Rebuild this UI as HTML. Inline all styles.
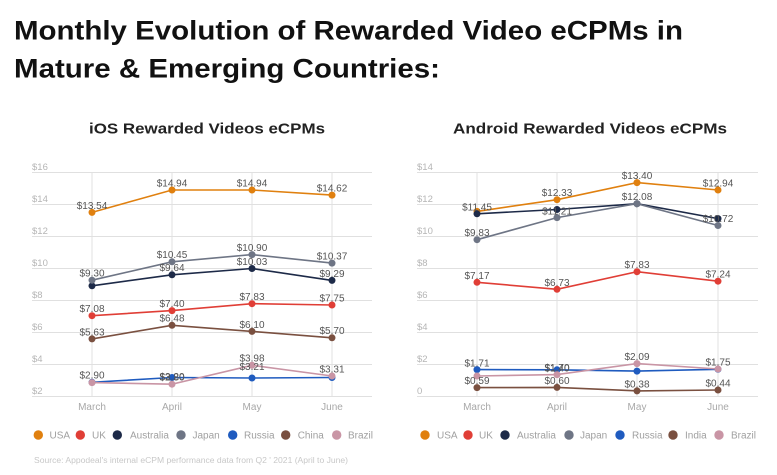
<!DOCTYPE html>
<html><head><meta charset="utf-8"><style>
html,body{margin:0;padding:0;background:#fff;}
svg{display:block;}
text{font-family:"Liberation Sans",sans-serif;}
.t{font-weight:bold;fill:#111;font-size:27px;}
.st{font-weight:bold;fill:#222;font-size:15px;}
.ax{fill:#b5b5b5;font-size:9.5px;}
.mo{fill:#a8a8a8;font-size:10px;text-anchor:middle;}
.lb{fill:#555;font-size:10px;text-anchor:middle;}
.lg{fill:#a0a0a0;font-size:10px;}
.src{fill:#c8c8c8;font-size:8px;}
.g{stroke:#e0e0e0;stroke-width:1;}
</style></head><body>
<svg width="777" height="475" viewBox="0 0 777 475" xmlns="http://www.w3.org/2000/svg">
<rect width="777" height="475" fill="#fff"/>
<text class="t" x="14" y="39.5" textLength="669" lengthAdjust="spacingAndGlyphs">Monthly Evolution of Rewarded Video eCPMs in</text>
<text class="t" x="14" y="77.5" textLength="426" lengthAdjust="spacingAndGlyphs">Mature &amp; Emerging Countries:</text>
<text class="st" x="89" y="133.5" textLength="236" lengthAdjust="spacingAndGlyphs">iOS Rewarded Videos eCPMs</text>
<text class="st" x="453" y="133.5" textLength="274" lengthAdjust="spacingAndGlyphs">Android Rewarded Videos eCPMs</text>

<!-- iOS grid -->
<g class="g">
<line x1="32" x2="372" y1="172.5" y2="172.5"/>
<line x1="32" x2="372" y1="204.5" y2="204.5"/>
<line x1="32" x2="372" y1="236.5" y2="236.5"/>
<line x1="32" x2="372" y1="268.5" y2="268.5"/>
<line x1="32" x2="372" y1="300.5" y2="300.5"/>
<line x1="32" x2="372" y1="332.5" y2="332.5"/>
<line x1="32" x2="372" y1="364.5" y2="364.5"/>
<line x1="32" x2="372" y1="396.5" y2="396.5"/>
<line x1="92" x2="92" y1="172" y2="397"/>
<line x1="172" x2="172" y1="172" y2="397"/>
<line x1="252" x2="252" y1="172" y2="397"/>
<line x1="332" x2="332" y1="172" y2="397"/>
</g>
<text class="ax" x="32" y="170">$16</text>
<text class="ax" x="32" y="202">$14</text>
<text class="ax" x="32" y="234">$12</text>
<text class="ax" x="32" y="266">$10</text>
<text class="ax" x="32" y="298">$8</text>
<text class="ax" x="32" y="330">$6</text>
<text class="ax" x="32" y="362">$4</text>
<text class="ax" x="32" y="394">$2</text>
<text class="mo" x="92" y="410">March</text>
<text class="mo" x="172" y="410">April</text>
<text class="mo" x="252" y="410">May</text>
<text class="mo" x="332" y="410">June</text>

<!-- iOS series -->
<g fill="none" stroke-width="1.6">
<polyline stroke="#e0800f" points="92,212.4 172,190 252,190 332,195.1"/>
<polyline stroke="#e03e36" points="92,315.7 172,310.6 252,303.7 332,305"/>
<polyline stroke="#1d2a48" points="92,285.8 172,274.8 252,268.5 332,280.4"/>
<polyline stroke="#6e7585" points="92,280.2 172,261.8 252,254.6 332,263.1"/>
<polyline stroke="#1f5bbf" points="92,382.3 172,377.5 252,378 332,377.5"/>
<polyline stroke="#7a5040" points="92,338.9 172,325.3 252,331.4 332,337.8"/>
<polyline stroke="#c995a5" points="92,382.6 172,384.2 252,365.3 332,376"/>
</g>
<g>
<g fill="#e0800f"><circle cx="92" cy="212.4" r="3.5"/><circle cx="172" cy="190" r="3.5"/><circle cx="252" cy="190" r="3.5"/><circle cx="332" cy="195.1" r="3.5"/></g>
<g fill="#e03e36"><circle cx="92" cy="315.7" r="3.5"/><circle cx="172" cy="310.6" r="3.5"/><circle cx="252" cy="303.7" r="3.5"/><circle cx="332" cy="305" r="3.5"/></g>
<g fill="#1d2a48"><circle cx="92" cy="285.8" r="3.5"/><circle cx="172" cy="274.8" r="3.5"/><circle cx="252" cy="268.5" r="3.5"/><circle cx="332" cy="280.4" r="3.5"/></g>
<g fill="#6e7585"><circle cx="92" cy="280.2" r="3.5"/><circle cx="172" cy="261.8" r="3.5"/><circle cx="252" cy="254.6" r="3.5"/><circle cx="332" cy="263.1" r="3.5"/></g>
<g fill="#1f5bbf"><circle cx="92" cy="382.3" r="3.5"/><circle cx="172" cy="377.5" r="3.5"/><circle cx="252" cy="378" r="3.5"/><circle cx="332" cy="377.5" r="3.5"/></g>
<g fill="#7a5040"><circle cx="92" cy="338.9" r="3.5"/><circle cx="172" cy="325.3" r="3.5"/><circle cx="252" cy="331.4" r="3.5"/><circle cx="332" cy="337.8" r="3.5"/></g>
<g fill="#c995a5"><circle cx="92" cy="382.6" r="3.5"/><circle cx="172" cy="384.2" r="3.5"/><circle cx="252" cy="365.3" r="3.5"/><circle cx="332" cy="376" r="3.5"/></g>
</g>
<g class="lb">
<text x="92" y="209">$13.54</text><text x="172" y="186.5">$14.94</text><text x="252" y="186.5">$14.94</text><text x="332" y="191.5">$14.62</text>
<text x="92" y="312">$7.08</text><text x="172" y="307">$7.40</text><text x="252" y="300">$7.83</text><text x="332" y="301.5">$7.75</text>
<text x="172" y="271">$9.64</text><text x="252" y="265">$10.03</text><text x="332" y="277">$9.29</text>
<text x="92" y="276.5">$9.30</text><text x="172" y="258">$10.45</text><text x="252" y="251">$10.90</text><text x="332" y="259.5">$10.37</text>
<text x="92" y="378.5">$2.90</text><text x="172" y="380">$3.20</text><text x="252" y="370">$3.21</text>
<text x="92" y="335.5">$5.63</text><text x="172" y="321.5">$6.48</text><text x="252" y="328">$6.10</text><text x="332" y="334">$5.70</text>
<text x="172" y="380.5">$2.80</text><text x="252" y="361.5">$3.98</text><text x="332" y="372.5">$3.31</text>
</g>

<!-- iOS legend -->
<g>
<circle cx="38.3" cy="435" r="4.7" fill="#e0800f"/><text class="lg" x="49.5" y="438.5">USA</text>
<circle cx="80.3" cy="435" r="4.7" fill="#e03e36"/><text class="lg" x="92" y="438.5">UK</text>
<circle cx="117.3" cy="435" r="4.7" fill="#1d2a48"/><text class="lg" x="130" y="438.5">Australia</text>
<circle cx="181" cy="435" r="4.7" fill="#6e7585"/><text class="lg" x="192.5" y="438.5">Japan</text>
<circle cx="232.7" cy="435" r="4.7" fill="#1f5bbf"/><text class="lg" x="244" y="438.5">Russia</text>
<circle cx="285.7" cy="435" r="4.7" fill="#7a5040"/><text class="lg" x="297.7" y="438.5">China</text>
<circle cx="336.7" cy="435" r="4.7" fill="#c995a5"/><text class="lg" x="348" y="438.5">Brazil</text>
</g>
<text class="src" x="34" y="463" textLength="314" lengthAdjust="spacingAndGlyphs">Source: Appodeal's internal eCPM performance data from Q2 ' 2021 (April to June)</text>

<!-- Android grid -->
<g class="g">
<line x1="417" x2="758" y1="172.5" y2="172.5"/>
<line x1="417" x2="758" y1="204.5" y2="204.5"/>
<line x1="417" x2="758" y1="236.5" y2="236.5"/>
<line x1="417" x2="758" y1="268.5" y2="268.5"/>
<line x1="417" x2="758" y1="300.5" y2="300.5"/>
<line x1="417" x2="758" y1="332.5" y2="332.5"/>
<line x1="417" x2="758" y1="364.5" y2="364.5"/>
<line x1="417" x2="758" y1="396.5" y2="396.5"/>
<line x1="477" x2="477" y1="172" y2="397"/>
<line x1="557" x2="557" y1="172" y2="397"/>
<line x1="637" x2="637" y1="172" y2="397"/>
<line x1="718" x2="718" y1="172" y2="397"/>
</g>
<text class="ax" x="417" y="170">$14</text>
<text class="ax" x="417" y="202">$12</text>
<text class="ax" x="417" y="234">$10</text>
<text class="ax" x="417" y="266">$8</text>
<text class="ax" x="417" y="298">$6</text>
<text class="ax" x="417" y="330">$4</text>
<text class="ax" x="417" y="362">$2</text>
<text class="ax" x="417" y="394">0</text>
<text class="mo" x="477" y="410">March</text>
<text class="mo" x="557" y="410">April</text>
<text class="mo" x="637" y="410">May</text>
<text class="mo" x="718" y="410">June</text>

<!-- Android series -->
<g fill="none" stroke-width="1.6">
<polyline stroke="#e0800f" points="477,211.4 557,199.7 637,182.6 718,190"/>
<polyline stroke="#e03e36" points="477,282.3 557,289.3 637,271.7 718,281.2"/>
<polyline stroke="#1d2a48" points="477,213.8 557,209.5 637,203.7 718,218.6"/>
<polyline stroke="#6e7585" points="477,239.7 557,217.6 637,203.7 718,225.5"/>
<polyline stroke="#1f5bbf" points="477,369.6 557,369.8 637,371.1 718,369.3"/>
<polyline stroke="#7a5040" points="477,387.6 557,387.4 637,390.9 718,390"/>
<polyline stroke="#c995a5" points="477,376 557,374.6 637,363.6 718,369"/>
</g>
<g>
<g fill="#e0800f"><circle cx="477" cy="211.4" r="3.5"/><circle cx="557" cy="199.7" r="3.5"/><circle cx="637" cy="182.6" r="3.5"/><circle cx="718" cy="190" r="3.5"/></g>
<g fill="#e03e36"><circle cx="477" cy="282.3" r="3.5"/><circle cx="557" cy="289.3" r="3.5"/><circle cx="637" cy="271.7" r="3.5"/><circle cx="718" cy="281.2" r="3.5"/></g>
<g fill="#1d2a48"><circle cx="477" cy="213.8" r="3.5"/><circle cx="557" cy="209.5" r="3.5"/><circle cx="637" cy="203.7" r="3.5"/><circle cx="718" cy="218.6" r="3.5"/></g>
<g fill="#6e7585"><circle cx="477" cy="239.7" r="3.5"/><circle cx="557" cy="217.6" r="3.5"/><circle cx="637" cy="203.7" r="3.5"/><circle cx="718" cy="225.5" r="3.5"/></g>
<g fill="#1f5bbf"><circle cx="477" cy="369.6" r="3.5"/><circle cx="557" cy="369.8" r="3.5"/><circle cx="637" cy="371.1" r="3.5"/><circle cx="718" cy="369.3" r="3.5"/></g>
<g fill="#7a5040"><circle cx="477" cy="387.6" r="3.5"/><circle cx="557" cy="387.4" r="3.5"/><circle cx="637" cy="390.9" r="3.5"/><circle cx="718" cy="390" r="3.5"/></g>
<g fill="#c995a5"><circle cx="477" cy="376" r="3.5"/><circle cx="557" cy="374.6" r="3.5"/><circle cx="637" cy="363.6" r="3.5"/><circle cx="718" cy="369" r="3.5"/></g>
</g>
<g class="lb">
<text x="557" y="196">$12.33</text><text x="637" y="179">$13.40</text><text x="718" y="186.5">$12.94</text>
<text x="477" y="282.3" dy="-3.5">$7.17</text><text x="557" y="286">$6.73</text><text x="637" y="268">$7.83</text><text x="718" y="277.5">$7.24</text>
<text x="477" y="210.5">$11.45</text>
<text x="477" y="236">$9.83</text><text x="557" y="214.5">$11.21</text><text x="637" y="200">$12.08</text><text x="718" y="222">$10.72</text>
<text x="477" y="366.5">$1.71</text><text x="557" y="371">$1.70</text>
<text x="477" y="384">$0.59</text><text x="557" y="384">$0.60</text><text x="637" y="387.5">$0.38</text><text x="718" y="386.5">$0.44</text>
<text x="557" y="371.5">$1.40</text><text x="637" y="360">$2.09</text><text x="718" y="365.5">$1.75</text>
</g>

<!-- Android legend -->
<g>
<circle cx="425" cy="435" r="4.7" fill="#e0800f"/><text class="lg" x="437" y="438.5">USA</text>
<circle cx="468" cy="435" r="4.7" fill="#e03e36"/><text class="lg" x="479" y="438.5">UK</text>
<circle cx="505" cy="435" r="4.7" fill="#1d2a48"/><text class="lg" x="517" y="438.5">Australia</text>
<circle cx="569" cy="435" r="4.7" fill="#6e7585"/><text class="lg" x="580" y="438.5">Japan</text>
<circle cx="620" cy="435" r="4.7" fill="#1f5bbf"/><text class="lg" x="632" y="438.5">Russia</text>
<circle cx="673" cy="435" r="4.7" fill="#7a5040"/><text class="lg" x="685" y="438.5">India</text>
<circle cx="719" cy="435" r="4.7" fill="#c995a5"/><text class="lg" x="731" y="438.5">Brazil</text>
</g>
</svg>
</body></html>
